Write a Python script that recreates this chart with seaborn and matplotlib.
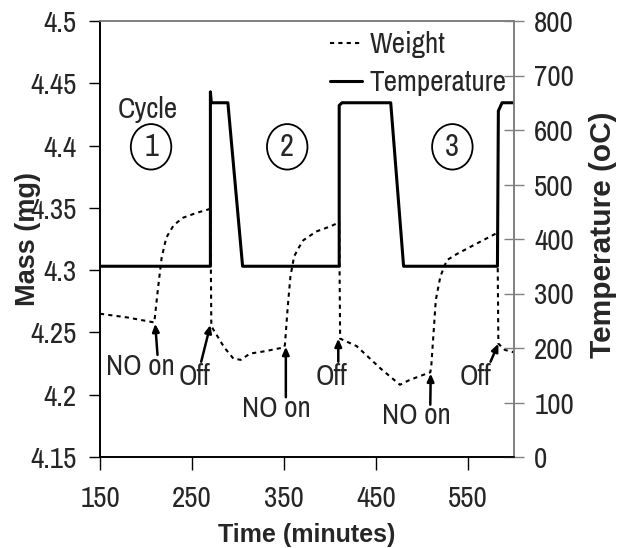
import matplotlib
matplotlib.use("Agg")
import matplotlib.pyplot as plt
from matplotlib.lines import Line2D
from matplotlib.patches import Ellipse
import seaborn as sns
import pandas as pd
import logging
logging.getLogger("matplotlib.font_manager").setLevel(logging.ERROR)

# ---- data ----
weight_time = [150, 180, 209, 213, 217, 222, 230, 240, 255, 269, 270, 271, 285, 295, 303,
               313, 330, 350, 351, 354, 357, 361, 366, 371, 385, 400, 409, 410, 411, 429,
               455, 476, 487, 509, 510, 515, 520, 527, 538, 556, 582, 583, 590, 600]
weight_mass = [4.265, 4.262, 4.258, 4.285, 4.310, 4.326, 4.336, 4.342, 4.346, 4.349, 4.350,
               4.255, 4.238, 4.229, 4.228, 4.233, 4.235, 4.238, 4.240, 4.270, 4.295, 4.311,
               4.318, 4.324, 4.331, 4.335, 4.338, 4.339, 4.245, 4.239, 4.221, 4.208, 4.212,
               4.218, 4.222, 4.276, 4.295, 4.308, 4.313, 4.320, 4.330, 4.241, 4.236, 4.234]

temp_time = [150, 270, 270, 271, 289, 305, 410, 410, 413, 466, 480, 582, 583, 587, 600]
temp_value = [350, 350, 670, 650, 650, 350, 350, 645, 650, 650, 350, 350, 635, 650, 650]

x_ticks = [150, 250, 350, 450, 550]
mass_ticks = [4.15, 4.2, 4.25, 4.3, 4.35, 4.4, 4.45, 4.5]
mass_ticklabels = ["4.15", "4.2", "4.25", "4.3", "4.35", "4.4", "4.45", "4.5"]
temp_ticks = [0, 100, 200, 300, 400, 500, 600, 700, 800]

cycle_labels = ["1", "2", "3"]
cycle_time = [205.5, 353.5, 533]
cycle_mass = [4.399, 4.399, 4.399]

ann_labels = ["NO on", "Off", "NO on", "Off", "NO on", "Off"]
ann_text_time = [194, 253, 342, 402, 493.5, 558]
ann_text_mass = [4.2225, 4.215, 4.189, 4.215, 4.1837, 4.215]
ann_tail_time = [212.5, 260, 352, 409, 509, 574.5]
ann_tail_mass = [4.232, 4.2265, 4.198, 4.2265, 4.192, 4.2265]
ann_head_time = [210, 270, 352, 409, 509.5, 583]
ann_head_mass = [4.257, 4.256, 4.2385, 4.245, 4.217, 4.241]

# ---- style ----
sns.set_style("white")
plt.rcParams["font.family"] = ["Liberation Sans Narrow", "Arial Narrow", "Archivo Narrow",
                               "PT Sans Narrow", "Roboto Condensed", "Liberation Sans",
                               "DejaVu Sans"]
FS = 21
BOLD = ["Liberation Sans", "DejaVu Sans"]

fig = plt.figure(figsize=(6.18, 5.48), dpi=100)
ax = fig.add_axes([100 / 618, 1 - 457 / 548, 414 / 618, 436 / 548])
ax2 = ax.twinx()

wdf = pd.DataFrame({"Time": weight_time, "Mass": weight_mass})
tdf = pd.DataFrame({"Time": temp_time, "Temperature": temp_value})

DOT = (0, (2, 2))
sns.lineplot(data=wdf, x="Time", y="Mass", ax=ax, estimator=None, sort=False,
             color="black", lw=1.5, linestyle=DOT)
sns.lineplot(data=tdf, x="Time", y="Temperature", ax=ax2, estimator=None, sort=False,
             color="black", lw=2.2)

ax.set_xlim(150, 600)
ax.set_ylim(4.15, 4.5)
ax2.set_ylim(0, 800)
ax.set_xticks(x_ticks)
ax.set_yticks(mass_ticks)
ax.set_yticklabels(mass_ticklabels)
ax2.set_yticks(temp_ticks)

ax.tick_params(axis="x", labelsize=FS, length=9, width=1, color="black",
               direction="out", bottom=True, pad=11)
ax.tick_params(axis="y", labelsize=FS, length=8, width=1, color="black",
               direction="out", left=True, pad=9)
ax2.tick_params(axis="y", labelsize=FS, length=15, width=1, color="#808080",
                direction="inout", right=True, pad=7)

ax.set_xlabel("Time (minutes)", family=BOLD, fontsize=18, fontweight="bold")
ax.set_ylabel("Mass (mg)", family=BOLD, fontsize=19.5, fontweight="bold")
ax2.set_ylabel("Temperature (oC)", family=BOLD, fontsize=21.5, fontweight="bold")
ax.xaxis.set_label_coords(0.5, -0.179)
ax.xaxis.label.set_verticalalignment("center")
ax.yaxis.set_label_coords(-0.175, 0.5)
ax.yaxis.label.set_verticalalignment("center")
ax2.yaxis.set_label_coords(1.215, 0.51)
ax2.yaxis.label.set_verticalalignment("center")

for a in (ax, ax2):
    a.spines["left"].set_color("black")
    a.spines["bottom"].set_color("black")
    a.spines["top"].set_color("#808080")
    a.spines["right"].set_color("#808080")
    for s in a.spines.values():
        s.set_linewidth(1.2)

# cycle markers
ax.text(202, 4.4286, "Cycle", fontsize=FS, ha="center", va="center")
for lab, t, m in zip(cycle_labels, cycle_time, cycle_mass):
    ax.text(t, m, lab, fontsize=FS + 1, ha="center", va="center")
    ax.add_patch(Ellipse((t, m), width=44, height=0.0365, fill=False,
                         edgecolor="black", lw=1.3))

# event annotations
for lab, tx, ty, ax0, ay0, hx, hy in zip(ann_labels, ann_text_time, ann_text_mass,
                                         ann_tail_time, ann_tail_mass,
                                         ann_head_time, ann_head_mass):
    ax.text(tx, ty, lab, fontsize=FS, ha="center", va="center")
    ax.annotate("", xy=(hx, hy), xytext=(ax0, ay0),
                arrowprops=dict(arrowstyle="-|>,head_length=0.45,head_width=0.2",
                                lw=1.8, color="black", shrinkA=0, shrinkB=0))

handles = [Line2D([], [], color="black", lw=1.5, linestyle=DOT),
           Line2D([], [], color="black", lw=2.2)]
leg = ax.legend(handles, ["Weight", "Temperature"], loc="upper left",
                bbox_to_anchor=(330 / 618, 1 - 31 / 548), bbox_transform=fig.transFigure,
                frameon=False, fontsize=FS, handlelength=1.1, handletextpad=0.25,
                labelspacing=0.38, borderpad=0, borderaxespad=0)
leg.set_zorder(10)

fig.savefig("out.png", dpi=100)
